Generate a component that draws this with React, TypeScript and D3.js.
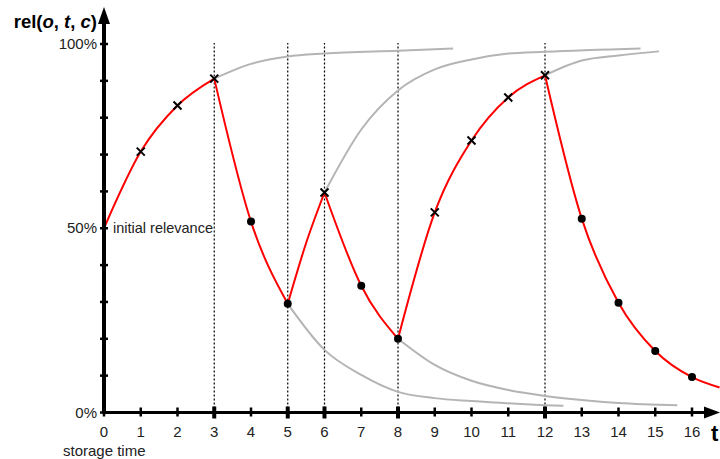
import * as d3 from 'd3';
import React from 'react';

// relevance (%) at each storage time, split into the red segments
const redSegments: [number, number][][] = [
  [[0, 50], [1, 70.8], [2, 83.3], [3, 90.6]],
  [[3, 90.6], [4, 51.8], [5, 29.5]],
  [[5, 29.5], [5.5, 46], [6, 59.7]],
  [[6, 59.7], [7, 34.4], [8, 20]],
  [[8, 20], [9, 54.3], [10, 73.8], [11, 85.5], [12, 91.5]],
  [[12, 91.5], [13, 52.6], [14, 29.8], [15, 16.7], [16, 9.6], [16.75, 6.8]],
];

// marked points: x = retrieval (cross), o = storage (dot)
const crossTimes = [1, 2, 3, 6, 9, 10, 11, 12];
const crossValues = [70.8, 83.3, 90.6, 59.7, 54.3, 73.8, 85.5, 91.5];
const dotTimes = [4, 5, 7, 8, 13, 14, 15, 16];
const dotValues = [51.8, 29.5, 34.4, 20, 52.6, 29.8, 16.7, 9.6];

// grey continuations if nothing had happened
const greyCurves: [number, number][][] = [
  [[3, 90.6], [4, 94.6], [5, 96.6], [6, 97.4], [8, 98.2], [9.5, 98.8]],
  [[5, 29.5], [6, 17], [7, 10.2], [8, 5.6], [9, 3.9], [10, 3.1], [12, 2.0], [12.5, 1.8]],
  [[6, 59.7], [7, 76.8], [8, 87.4], [9, 93.1], [10, 95.8], [11, 97.4], [12, 97.9], [14.6, 98.8]],
  [[8, 20], [9, 12.9], [10, 8.6], [11, 6.1], [12, 4.5], [13, 3.4], [14, 2.6], [15.6, 2.0]],
  [[12, 91.5], [13, 95.5], [14, 96.9], [15.1, 98.0]],
];

const eventTimes = [3, 5, 6, 8, 12];
const xTicks = d3.range(0, 17);
const yTicks = d3.range(0, 101, 10);
const yLabels = [0, 50, 100];

const W = 720;
const H = 459;

export default function App() {
  const x = d3.scaleLinear().domain([0, 16]).range([104, 692]);
  const y = d3.scaleLinear().domain([0, 100]).range([412.5, 44]);
  const line = d3.line<[number, number]>()
    .x(d => x(d[0]))
    .y(d => y(d[1]))
    .curve(d3.curveMonotoneX);
  const font = 'Liberation Sans, Arial, sans-serif';
  const fs = 15;

  return (
    <svg width={W} height={H} style={{ position: 'absolute', left: 0, top: 0 }} fontFamily={font}>
      <rect width={W} height={H} fill="#fff" />
      {eventTimes.map(t => (
        <line key={'v' + t} x1={x(t)} x2={x(t)} y1={y(0)} y2={y(100) - 1}
          stroke="#000" strokeWidth={1.2} strokeDasharray="2,2" />
      ))}
      {greyCurves.map((c, i) => (
        <path key={'g' + i} d={line(c) || ''} fill="none" stroke="#b4b4b4" strokeWidth={2} />
      ))}
      {redSegments.map((c, i) => (
        <path key={'r' + i} d={line(c) || ''} fill="none" stroke="#ff0000" strokeWidth={2} />
      ))}

      {/* axes */}
      <line x1={x(0)} x2={x(0)} y1={y(0) + 1} y2={20} stroke="#000" strokeWidth={4} />
      <path d={`M${x(0)},7 L${x(0) - 6},24 L${x(0) + 6},24 Z`} fill="#000" />
      <line x1={x(0)} x2={708} y1={y(0)} y2={y(0)} stroke="#000" strokeWidth={3} />
      <path d={`M720,${y(0)} L704,${y(0) - 6} L704,${y(0) + 6} Z`} fill="#000" />
      {yTicks.map(v => (
        <line key={'yt' + v} x1={x(0) - 4} x2={x(0) + 4} y1={y(v)} y2={y(v)} stroke="#000" strokeWidth={2.5} />
      ))}
      {xTicks.map(t => {
        const big = eventTimes.includes(t);
        return (
          <line key={'xt' + t} x1={x(t)} x2={x(t)} y1={y(0) - (big ? 6 : 5)} y2={y(0) + (big ? 6 : 4)}
            stroke="#000" strokeWidth={big ? 4 : 2.5} />
        );
      })}
      {xTicks.map(t => (
        <text key={'xl' + t} x={x(t)} y={437} textAnchor="middle" fontSize={fs} fill="#222">{t}</text>
      ))}
      {yLabels.map(v => (
        <text key={'yl' + v} x={97} y={y(v) + 5} textAnchor="end" fontSize={fs} fill="#222">{v}%</text>
      ))}
      <text x={113} y={y(50) + 5} fontSize={14.5} fill="#222">initial relevance</text>
      <text x={63} y={456} fontSize={fs} fill="#222">storage time</text>
      <text x={711} y={441} fontSize={22} fontWeight="bold" fill="#000">t</text>
      <text x={97} y={28} textAnchor="end" fontSize={18.5} fontWeight="bold" fill="#000">
        rel(<tspan fontStyle="italic">o</tspan>, <tspan fontStyle="italic">t</tspan>, <tspan fontStyle="italic">c</tspan>)
      </text>

      {/* markers */}
      {crossTimes.map((t, i) => {
        const cx = x(t), cy = y(crossValues[i]), s = 4;
        return (
          <path key={'c' + t} d={`M${cx - s},${cy - s}L${cx + s},${cy + s}M${cx - s},${cy + s}L${cx + s},${cy - s}`}
            stroke="#000" strokeWidth={2} />
        );
      })}
      {dotTimes.map((t, i) => (
        <circle key={'d' + t} cx={x(t)} cy={y(dotValues[i])} r={4} fill="#000" />
      ))}
    </svg>
  );
}
